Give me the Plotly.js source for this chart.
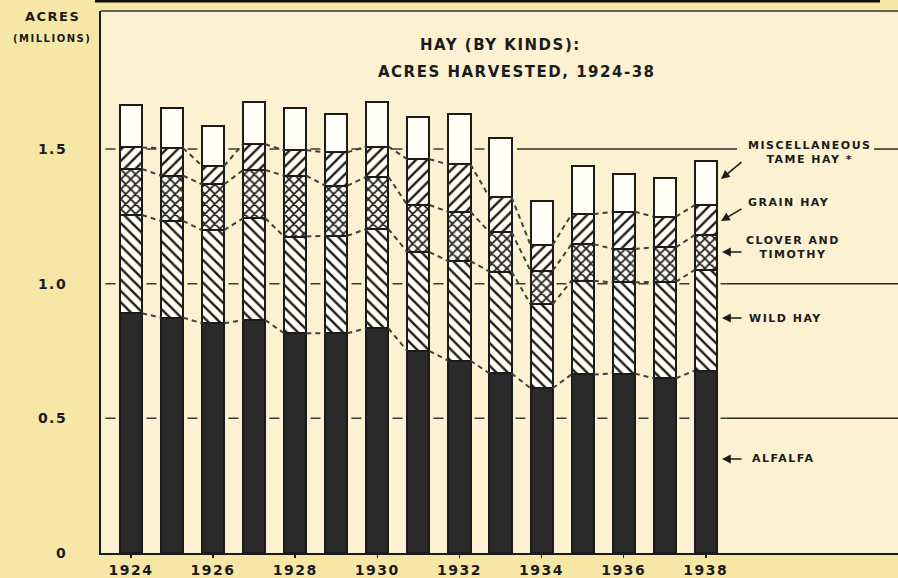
<!DOCTYPE html>
<html>
<head>
<meta charset="utf-8">
<script src="https://cdn.plot.ly/plotly-3.0.1.min.js"></script>
<style>
  html, body { margin: 0; padding: 0; background: #f7e7a6; }
  #chart { width: 898px; height: 578px; }
  text { letter-spacing: 1.5px; }
</style>
</head>
<body>
<div id="chart"></div>
<script>
// ---- data (millions of acres) ----
const years = [1924,1925,1926,1927,1928,1929,1930,1931,1932,1933,1934,1935,1936,1937,1938];
const alfalfa       = [0.890,0.874,0.853,0.865,0.816,0.816,0.834,0.750,0.714,0.667,0.612,0.663,0.666,0.649,0.677];
const wildHay       = [0.365,0.359,0.346,0.378,0.359,0.362,0.369,0.367,0.370,0.378,0.312,0.348,0.339,0.358,0.374];
const cloverTimothy = [0.171,0.168,0.170,0.179,0.226,0.186,0.194,0.175,0.183,0.146,0.124,0.136,0.124,0.128,0.130];
const grainHay      = [0.080,0.102,0.069,0.096,0.095,0.124,0.112,0.170,0.176,0.130,0.096,0.111,0.138,0.114,0.111];
const miscTameHay   = [0.158,0.151,0.148,0.158,0.155,0.141,0.165,0.158,0.186,0.219,0.163,0.180,0.141,0.142,0.164];

const yearTickVals = [1924,1926,1928,1930,1932,1934,1936,1938];
const yearTickText = ['1924','1926','1928','1930','1932','1934','1936','1938'];
const yTickVals = [0, 0.5, 1.0, 1.5];
const yTickText = ['0', '0.5', '1.0', '1.5'];

const seriesNames = ['ALFALFA', 'WILD HAY', 'CLOVER AND TIMOTHY', 'GRAIN HAY', 'MISCELLANEOUS TAME HAY'];
const series = [alfalfa, wildHay, cloverTimothy, grainHay, miscTameHay];

// ---- styling ----
const FONT = 'DejaVu Sans, Verdana, sans-serif';
const INK = '#1b1b1b';
const PAPER = '#f7e7a6';
const PLOTBG = '#fcf1d0';
const BARW = 0.54;
const XMIN = 1923.27, XMAX = 1942.68;
const YMAX = 2.0126;

const patterns = [
  null,
  {shape: '\\', size: 8, solidity: 0.3},
  {shape: 'x', size: 7, solidity: 0.42},
  {shape: '/', size: 8, solidity: 0.3},
  null
];
const fills = ['#2a2a2a', '#fffdf4', '#fffdf4', '#fffdf4', '#fffdf4'];

const traces = series.map((vals, i) => {
  const marker = {color: fills[i], line: {color: INK, width: 2}};
  if (patterns[i]) {
    marker.pattern = Object.assign({fgcolor: INK, bgcolor: '#fffdf4', fillmode: 'replace'}, patterns[i]);
  }
  return {
    type: 'bar', name: seriesNames[i], x: years, y: vals, width: BARW,
    marker: marker, hoverinfo: 'skip', showlegend: false
  };
});

// dotted connectors between the tops of the four lower layers
let cum = years.map(() => 0);
for (let s = 0; s < 4; s++) {
  cum = cum.map((c, j) => c + series[s][j]);
  const xs = [], ys = [];
  for (let j = 0; j < years.length - 1; j++) {
    xs.push(years[j] + BARW / 2, years[j + 1] - BARW / 2, null);
    ys.push(cum[j], cum[j + 1], null);
  }
  traces.push({
    type: 'scatter', mode: 'lines', x: xs, y: ys, connectgaps: false,
    line: {color: '#404040', width: 2, dash: '5px,4px'},
    hoverinfo: 'skip', showlegend: false
  });
}

// pixel -> paper helpers (plot area: x 101..898, y 11..553)
const PX = px => (px - 101) / 797;
const PY = py => (553 - py) / 542;

const dashStart = 1923.5 - 5 / 41.07;
const shapes = [];
[0.5, 1.0].forEach(v => {
  shapes.push({type: 'line', layer: 'below', xref: 'x', yref: 'y', x0: dashStart, x1: 1938.5, y0: v, y1: v,
               line: {color: '#3a3a3a', width: 1.5, dash: '10px,31px'}});
  shapes.push({type: 'line', layer: 'below', xref: 'x', yref: 'y', x0: 1938.5, x1: XMAX, y0: v, y1: v,
               line: {color: '#2a2a2a', width: 1.5}});
});
shapes.push({type: 'line', layer: 'below', xref: 'x', yref: 'y', x0: dashStart, x1: 1933, y0: 1.5, y1: 1.5,
             line: {color: '#3a3a3a', width: 1.5, dash: '10px,31px'}});
shapes.push({type: 'line', layer: 'below', xref: 'paper', yref: 'y', x0: PX(517), x1: PX(737), y0: 1.5, y1: 1.5,
             line: {color: '#2a2a2a', width: 1.5}});
shapes.push({type: 'line', layer: 'below', xref: 'paper', yref: 'y', x0: PX(874), x1: 1, y0: 1.5, y1: 1.5,
             line: {color: '#2a2a2a', width: 1.5}});
// frame top line and the heavy rule at the very top
shapes.push({type: 'line', xref: 'paper', yref: 'paper', x0: 0, x1: 1, y0: 1, y1: 1,
             line: {color: '#333', width: 1.5}});
shapes.push({type: 'line', xref: 'paper', yref: 'paper', x0: PX(95), x1: PX(880), y0: PY(1), y1: PY(1),
             line: {color: '#111', width: 3}});

const txt = (text, px, py, size, extra) => Object.assign({
  text: text, xref: 'paper', yref: 'paper', x: PX(px), y: PY(py),
  xanchor: 'center', yanchor: 'middle', showarrow: false,
  font: {family: FONT, size: size, color: INK, weight: 'bold'}
}, extra || {});

const arrow = (hx, hy, ax, ay) => ({
  text: '', xref: 'paper', yref: 'paper', x: PX(hx), y: PY(hy), ax: ax, ay: ay,
  showarrow: true, arrowhead: 2, arrowsize: 1.1, arrowwidth: 1.6, arrowcolor: INK
});

const annotations = [
  txt('HAY (BY KINDS):', 500, 45, 15),
  txt('ACRES HARVESTED, 1924-38', 517, 72, 15),
  txt('ACRES', 52, 17, 13),
  txt('(MILLIONS)', 52, 38, 10),
  txt('MISCELLANEOUS<br>TAME HAY *', 810, 152, 11),
  txt('GRAIN HAY', 788, 202, 11),
  txt('CLOVER AND<br>TIMOTHY', 793, 248, 11),
  txt('WILD HAY', 785, 318, 11),
  txt('ALFALFA', 783, 458, 11),
  arrow(721, 179, 22, -18),
  arrow(721, 221, 22, -13),
  arrow(722, 252, 21, 0),
  arrow(722, 318, 21, 0),
  arrow(722, 459, 21, 0)
];

const layout = {
  width: 898, height: 578,
  margin: {l: 101, r: 0, t: 11, b: 25, pad: 0},
  paper_bgcolor: PAPER, plot_bgcolor: PLOTBG,
  barmode: 'stack', bargap: 0,
  showlegend: false,
  xaxis: {
    range: [XMIN, XMAX], tickmode: 'array', tickvals: yearTickVals, ticktext: yearTickText,
    showgrid: false, zeroline: false, showline: true, linecolor: INK, linewidth: 2,
    ticks: 'outside', ticklen: 3, tickwidth: 1.5, tickcolor: INK,
    tickfont: {family: FONT, size: 14, color: INK, weight: 'bold'}
  },
  yaxis: {
    range: [0, YMAX], tickmode: 'array', tickvals: yTickVals, ticktext: yTickText,
    showgrid: false, zeroline: false, showline: true, linecolor: INK, linewidth: 2,
    ticks: '', ticklabelstandoff: 29,
    tickfont: {family: FONT, size: 14, color: INK, weight: 'bold'}
  },
  shapes: shapes,
  annotations: annotations
};

Plotly.newPlot('chart', traces, layout, {displayModeBar: false, staticPlot: true});
</script>
</body>
</html>
